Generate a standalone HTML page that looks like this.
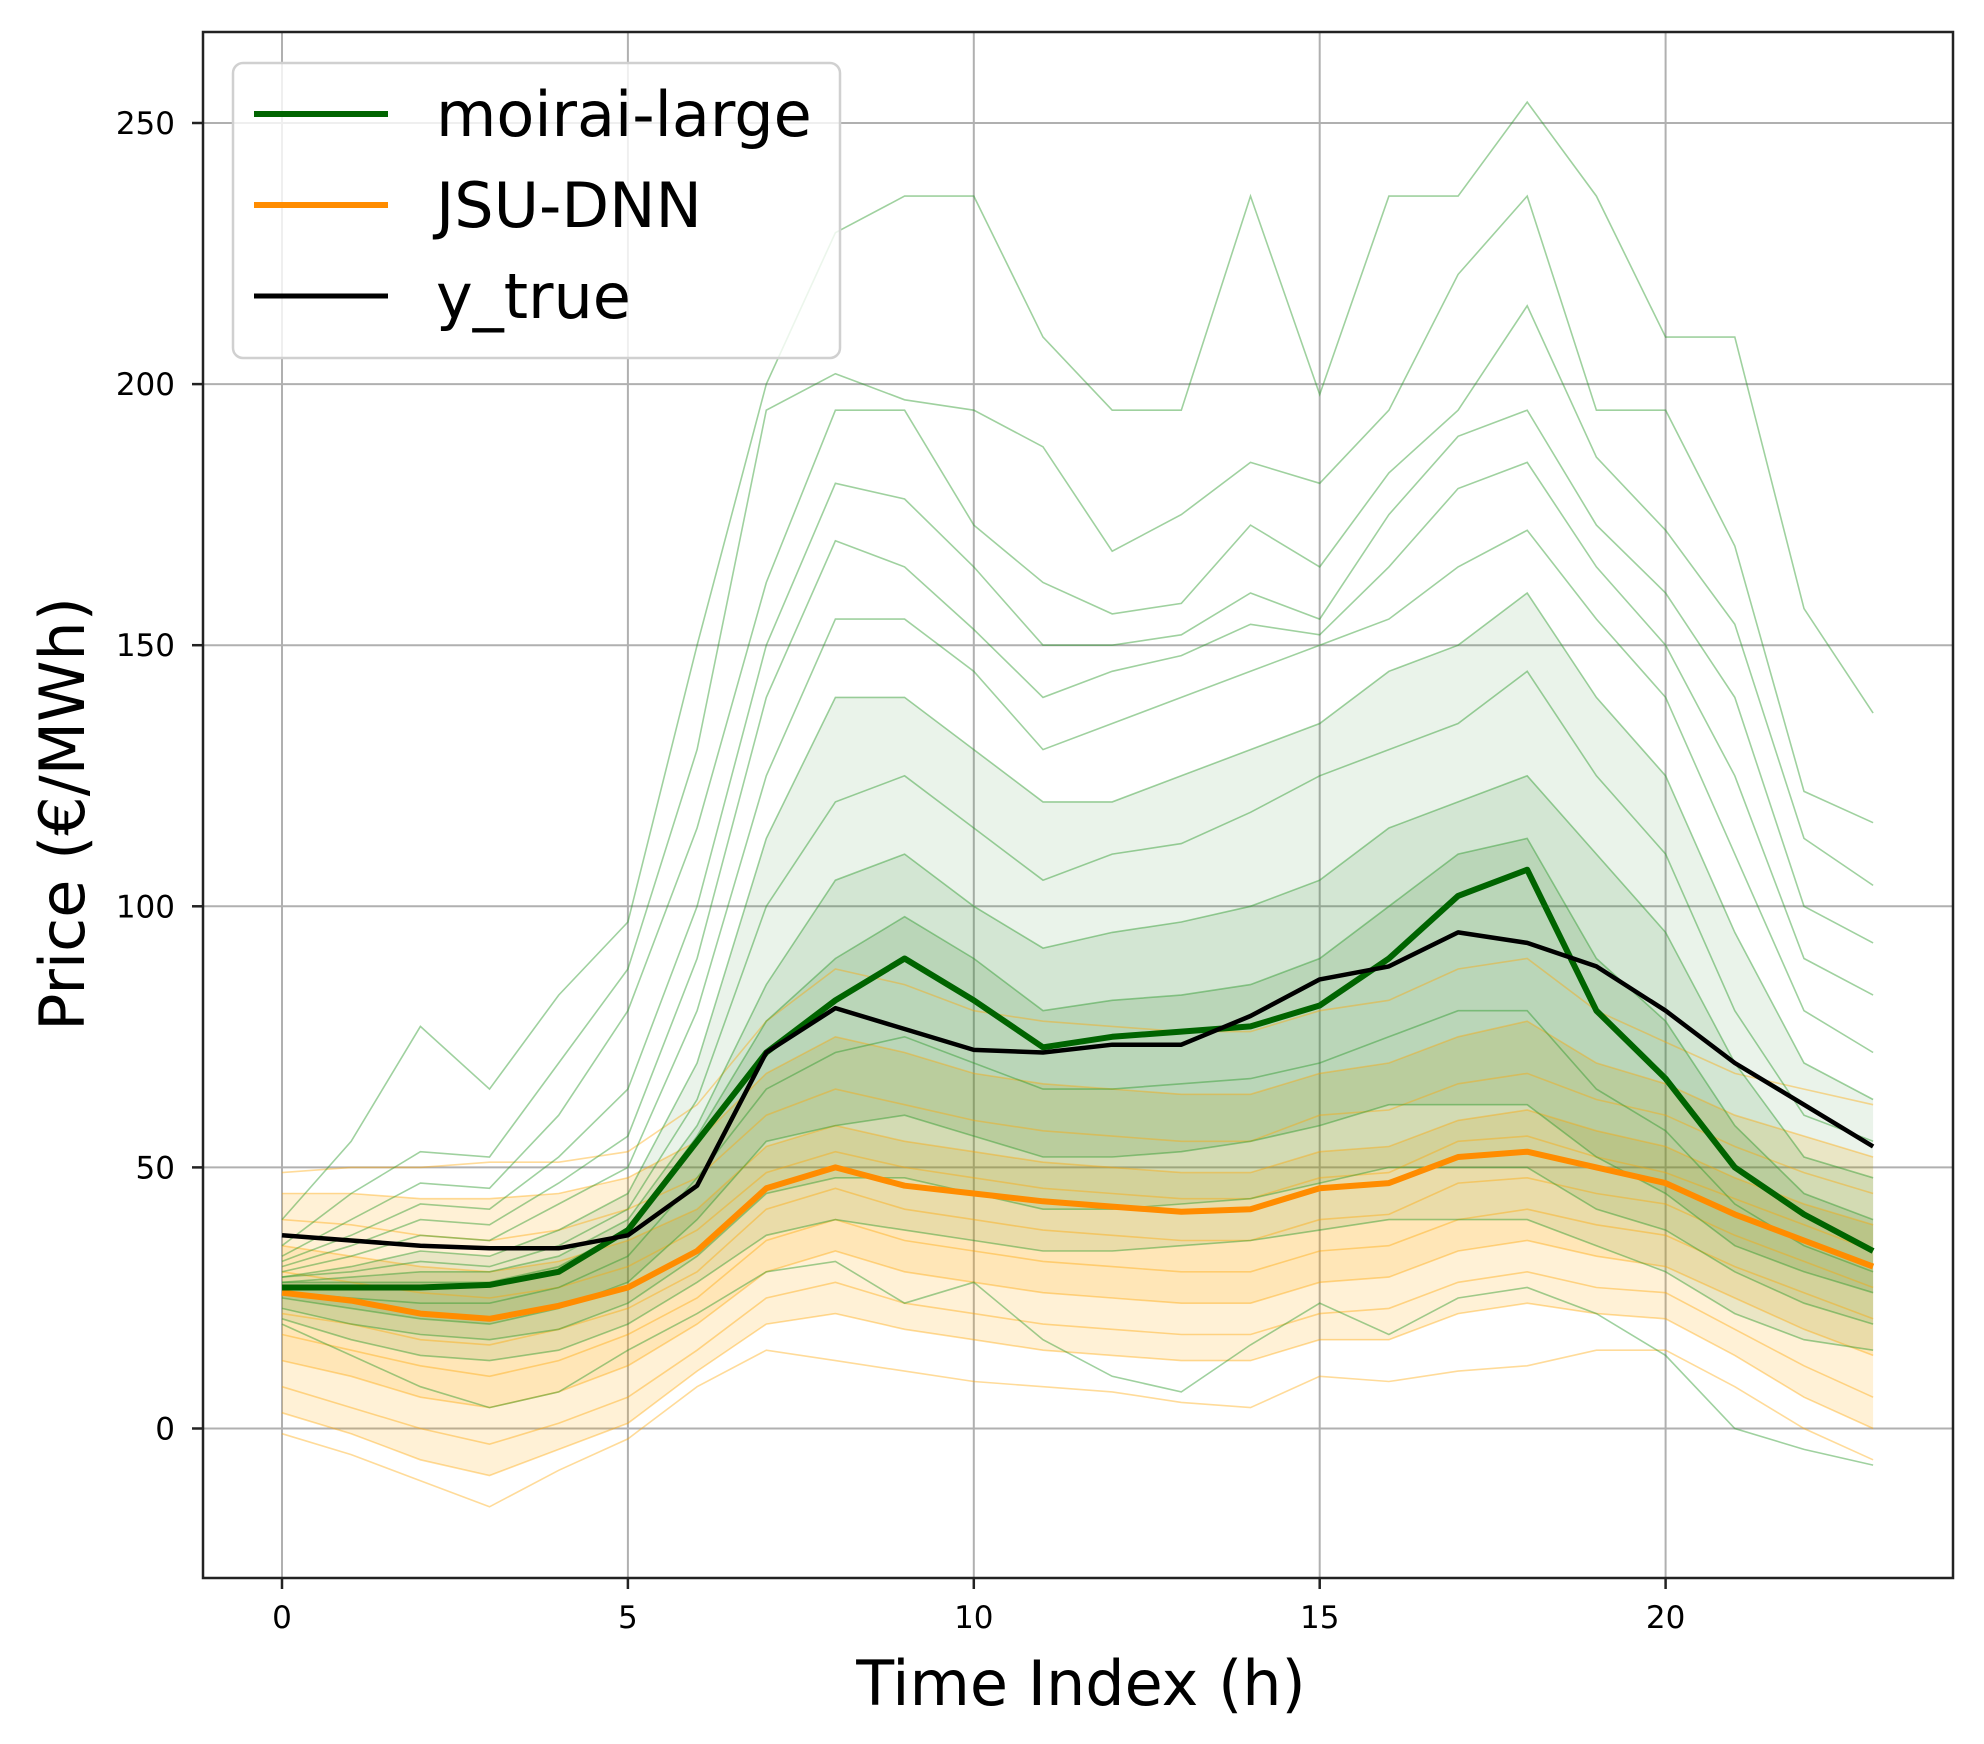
<!DOCTYPE html>
<html><head><meta charset="utf-8"><style>
body{margin:0;background:#fff;}
svg{display:block;font-family:"DejaVu Sans","Liberation Sans",sans-serif;}
</style></head><body>
<svg id="chart" width="1984" height="1744" viewBox="0 0 1984 1744" xmlns="http://www.w3.org/2000/svg">
<g id="grid"></g>
<g id="bands"></g>
<g id="qlines"></g>
<g id="mainlines"></g>
<g id="axes"></g>
<g id="legend"></g>
</svg>
<script>
const hours = [0,1,2,3,4,5,6,7,8,9,10,11,12,13,14,15,16,17,18,19,20,21,22,23];
const xTicks = [0,5,10,15,20];
const yTicks = [0,50,100,150,200,250];
const moiraiMedian = [27,27,27,27.5,30,38,55,72,82,90,82,73,75,76,77,81,90,102,107,80,67,50,41,34];
const jsuMedian = [26,24.5,22,21,23.5,27,34,46,50,46.5,45,43.5,42.5,41.5,42,46,47,52,53,50,47,41,36,31];
const yTrue = [37,36,35,34.5,34.5,37,46.5,72,80.5,76.5,72.5,72,73.5,73.5,79,86,88.5,95,93,88.5,80,70,62,54];
const g1 = [40,55,77,65,83,97,150,200,229,236,236,209,195,195,236,198,236,236,254,236,209,209,157,137];
const g2 = [35,45,53,52,70,88,130,195,202,197,195,188,168,175,185,181,195,221,236,195,195,169,122,116];
const g3 = [33,40,47,46,60,80,115,162,195,195,173,162,156,158,173,165,183,195,215,186,172,154,113,104];
const g4 = [32,37,43,42,52,65,100,150,181,178,165,150,150,152,160,155,175,190,195,173,160,140,100,93];
const g5 = [31,35,40,39,47,56,90,140,170,165,153,140,145,148,154,152,165,180,185,165,150,125,90,83];
const g6 = [30,33,37,36,43,50,80,125,155,155,145,130,135,140,145,150,155,165,172,155,140,110,80,72];
const g7 = [29,31,34,33,38,45,70,113,140,140,130,120,120,125,130,135,145,150,160,140,125,95,70,63];
const g8 = [29,30,32,31,35,42,63,100,120,125,115,105,110,112,118,125,130,135,145,125,110,80,60,55];
const g9 = [28,29,30,30,33,40,58,85,105,110,100,92,95,97,100,105,115,120,125,110,95,70,52,48];
const g10 = [28,28,28,28,31,38,56,78,90,98,90,80,82,83,85,90,100,110,113,90,78,58,45,40];
const g11 = [26,25,24,24,27,33,48,65,72,75,70,65,65,66,67,70,75,80,80,65,57,43,35,30];
const g12 = [25,23,21,20,23,28,40,55,58,60,56,52,52,53,55,58,62,62,62,52,45,35,30,26];
const g13 = [23,20,18,17,19,24,33,45,48,48,45,42,42,43,44,47,50,50,50,42,38,30,24,20];
const g14 = [21,17,14,13,15,20,28,37,40,38,36,34,34,35,36,38,40,40,40,35,30,22,17,15];
const g15 = [20,14,8,4,7,15,22,30,32,24,28,17,10,7,16,24,18,25,27,22,14,0,-4,-7];
const o1 = [49,50,50,51,51,53,62,78,88,85,80,78,77,76,76,80,82,88,90,80,74,68,65,62];
const o2 = [45,45,44,44,45,48,55,68,75,72,68,66,65,64,64,68,70,75,78,70,66,60,56,52];
const o3 = [40,39,37,36,38,42,48,60,65,62,59,57,56,55,55,60,61,66,68,63,60,54,49,45];
const o4 = [35,33,31,30,32,36,42,54,58,55,53,51,50,49,49,53,54,59,61,57,54,48,43,39];
const o5 = [30,28,26,25,27,31,38,49,53,50,48,46,45,44,44,48,49,55,56,52,49,44,39,34];
const o6 = [22,20,17,16,19,23,30,42,46,42,40,38,37,36,36,40,41,47,48,45,43,37,32,27];
const o7 = [18,15,12,10,13,18,25,36,40,36,34,32,31,30,30,34,35,40,42,39,37,31,26,21];
const o8 = [13,10,6,4,7,12,20,30,34,30,28,26,25,24,24,28,29,34,36,33,31,25,19,14];
const o9 = [8,4,0,-3,1,6,15,25,28,24,22,20,19,18,18,22,23,28,30,27,26,19,12,6];
const o10 = [3,-1,-6,-9,-4,1,11,20,22,19,17,15,14,13,13,17,17,22,24,22,21,14,6,0];
const o11 = [-1,-5,-10,-15,-8,-2,8,15,13,11,9,8,7,5,4,10,9,11,12,15,15,8,0,-6];

const NS="http://www.w3.org/2000/svg";
const L=203,R=1953,T=32,B=1578;
const X0=282, XPH=69.18, Y0=1428.5, YPU=5.222;
function xs(h){return X0+h*XPH;}
function ys(v){return Y0-v*YPU;}
function mk(tag,attrs,parent){const e=document.createElementNS(NS,tag);for(const k in attrs)e.setAttribute(k,attrs[k]);parent.appendChild(e);return e;}
function ptList(arr){return arr.map((v,i)=>xs(hours[i]).toFixed(1)+","+ys(v).toFixed(1));}
function pts(arr){return ptList(arr).join(" ");}

const grid=document.getElementById('grid');
xTicks.forEach(t=>{const l=mk('line',{x1:xs(t),x2:xs(t),y1:T,y2:B,stroke:'#b0b0b0','stroke-width':2},grid);

});
yTicks.forEach(t=>{const l=mk('line',{x1:L,x2:R,y1:ys(t),y2:ys(t),stroke:'#b0b0b0','stroke-width':2},grid);

});

const bands=document.getElementById('bands');
function band(up,lo,color,op,name){const p=mk('polygon',{points:ptList(up).concat(ptList(lo).reverse()).join(" "),fill:color,'fill-opacity':op},bands);

}
band(o2,o10,'#ffa500',0.16,'jsu-band-outer');
band(o4,o8,'#ffa500',0.14,'jsu-band-inner');
band(g7,g14,'#2e8b2e',0.10,'moirai-band-outer');
band(g9,g13,'#2e8b2e',0.12,'moirai-band-mid');
band(g10,g12,'#2e7d20',0.15,'moirai-band-inner');

const ql=document.getElementById('qlines');
const oranges=[o1,o2,o3,o4,o5,o6,o7,o8,o9,o10,o11];
const greens=[g1,g2,g3,g4,g5,g6,g7,g8,g9,g10,g11,g12,g13,g14,g15];
oranges.forEach((a,i)=>{const p=mk('polyline',{points:pts(a),fill:'none',stroke:'#ffa500','stroke-opacity':0.4,'stroke-width':1.6},ql);

});
greens.forEach((a,i)=>{const p=mk('polyline',{points:pts(a),fill:'none',stroke:'#2a9a2a','stroke-opacity':0.45,'stroke-width':1.6},ql);

});

const ml=document.getElementById('mainlines');
let p;
p=mk('polyline',{points:pts(jsuMedian),fill:'none',stroke:'#ff8c00','stroke-width':6,'stroke-linejoin':'round'},ml);


p=mk('polyline',{points:pts(moiraiMedian),fill:'none',stroke:'#006400','stroke-width':6,'stroke-linejoin':'round'},ml);


p=mk('polyline',{points:pts(yTrue),fill:'none',stroke:'#000','stroke-width':4.5,'stroke-linejoin':'round'},ml);



const ax=document.getElementById('axes');
let r=mk('rect',{x:L,y:T,width:R-L,height:B-T,fill:'none',stroke:'#222','stroke-width':2.5},ax);


xTicks.forEach(t=>{mk('line',{x1:xs(t),x2:xs(t),y1:B,y2:B+11,stroke:'#222','stroke-width':2.5},ax);
const tx=mk('text',{x:xs(t),y:B+50,'font-size':31,'text-anchor':'middle',fill:'#000'},ax);tx.textContent=t;

});
yTicks.forEach(t=>{mk('line',{x1:L-11,x2:L,y1:ys(t),y2:ys(t),stroke:'#222','stroke-width':2.5},ax);
const tx=mk('text',{x:L-28,y:ys(t)+11,'font-size':31,'text-anchor':'end',fill:'#000'},ax);tx.textContent=t;

});
let xt=mk('text',{x:1081,y:1705,'font-size':62,'text-anchor':'middle',fill:'#000'},ax);xt.textContent='Time Index (h)';


let yt=mk('text',{x:0,y:0,'font-size':62,'text-anchor':'middle',fill:'#000',transform:'translate(84,814) rotate(-90)'},ax);yt.textContent='Price (€/MWh)';



const lg=document.getElementById('legend');
let box=mk('rect',{x:233,y:63,width:607,height:295,rx:10,fill:'#fff','fill-opacity':0.8,stroke:'#d0d0d0','stroke-width':2.5},lg);


const legItems=[['moirai-large','#006400',114,6],['JSU-DNN','#ff8c00',205,6],['y_true','#000',296,5]];
legItems.forEach(([lab,col,y,w])=>{const ln=mk('line',{x1:254,x2:388,y1:y,y2:y,stroke:col,'stroke-width':w},lg);


const tx=mk('text',{x:436,y:y+22,'font-size':62,fill:'#000'},lg);tx.textContent=lab;

});
</script>
</body></html>
